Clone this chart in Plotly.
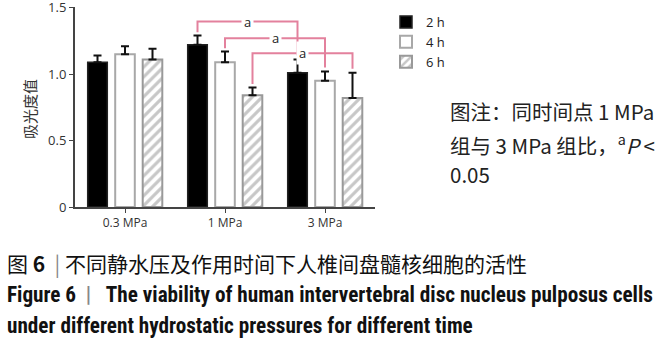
import plotly.graph_objects as go

# ---------------- data ----------------
categories = ["0.3 MPa", "1 MPa", "3 MPa"]
series_names = ["2 h", "4 h", "6 h"]
means_2h = [1.09, 1.22, 1.01]
means_4h = [1.15, 1.09, 0.95]
means_6h = [1.11, 0.84, 0.82]
err_2h = [0.05, 0.07, 0.10]
err_4h = [0.06, 0.08, 0.07]
err_6h = [0.08, 0.06, 0.19]
y_tick_vals = [0, 0.5, 1.0, 1.5]
y_tick_text = ["0", "0.5", "1.0", "1.5"]
# significance brackets: (series index, group from, group to, bracket level)
sig_pairs = [(0, 1, 2, 1.395), (1, 1, 2, 1.27), (2, 1, 2, 1.157)]
sig_label = "a"

means = [means_2h, means_4h, means_6h]
errs = [err_2h, err_4h, err_6h]

# ---------------- layout constants ----------------
W, H = 669, 343
ML, MR, MT, MB = 75, 294, 7, 136
PW = W - ML - MR
PH = H - MT - MB
BARGAP = 0.175
BARGROUPGAP = 0.287
slot = (1 - BARGAP) / 3
x_idx = list(range(len(categories)))

def px_to_paper_x(px):
    return (px - ML) / PW

def py_to_paper_y(py):
    return (H - MB - py) / PH

PINK = "#e3819d"
styles = [
    dict(color="#000000", line=dict(color="#222222", width=1.5)),
    dict(color="#ffffff", line=dict(color="#a8a8a8", width=2)),
    dict(color="#ffffff", line=dict(color="#999999", width=2),
         pattern=dict(shape="/", fgcolor="#8f8f8f", bgcolor="#ffffff", size=7, solidity=0.45)),
]

fig = go.Figure()
for i in range(3):
    fig.add_trace(go.Bar(
        x=x_idx, y=means[i], name=series_names[i],
        marker=styles[i],
        error_y=dict(type="data", array=errs[i], arrayminus=[0] * len(categories),
                     symmetric=False, color="#111111", thickness=2, width=4),
    ))

shapes = []
annotations = []
for (s, g0, g1, level) in sig_pairs:
    xa = g0 + (s - 1) * slot
    xb = g1 + (s - 1) * slot
    ya = means[s][g0] + errs[s][g0] + 0.025
    yb = means[s][g1] + errs[s][g1] + 0.03
    shapes.append(dict(type="path", xref="x", yref="y",
                       path=f"M{xa},{ya} L{xa},{level} L{xb},{level} L{xb},{yb}",
                       line=dict(color=PINK, width=2)))
    annotations.append(dict(x=(xa + xb) / 2, y=level, xref="x", yref="y",
                            text=sig_label, showarrow=False, bgcolor="#ffffff",
                            font=dict(family="Open Sans", size=13, color="#222222"),
                            borderpad=2))

# y-axis title
annotations.append(dict(x=px_to_paper_x(29), y=py_to_paper_y(109), xref="paper", yref="paper",
                        xanchor="center", yanchor="middle",
                        text="吸光度值", textangle=-90, showarrow=False,
                        font=dict(family="Noto Sans CJK SC", size=15, color="#333333")))

# note text
note_lines = ["图注：同时间点 1 MPa", "组与 3 MPa 组比，<sup>a</sup><i>P</i> &lt;", "0.05"]
note_y = [111, 144, 174]
for t, yy in zip(note_lines, note_y):
    annotations.append(dict(x=px_to_paper_x(448), y=py_to_paper_y(yy), xref="paper", yref="paper",
                            xanchor="left", yanchor="middle", text=t, showarrow=False,
                            font=dict(family="Noto Sans CJK SC, Open Sans", size=20.5, color="#222222")))

# captions
annotations.append(dict(x=px_to_paper_x(5), y=py_to_paper_y(263), xref="paper", yref="paper",
                        xanchor="left", yanchor="middle", showarrow=False,
                        text="图 <b>6</b>\u00a0 <span style='color:#888'>|</span>\u00a0不同静水压及作用时间下人椎间盘髓核细胞的活性",
                        font=dict(family="Noto Sans CJK SC", size=21, color="#111111")))
annotations.append(dict(x=px_to_paper_x(5), y=py_to_paper_y(294), xref="paper", yref="paper",
                        xanchor="left", yanchor="middle", showarrow=False,
                        text="<b>Figure 6\u00a0\u00a0<span style='color:#888'>|</span>\u00a0\u00a0\u00a0The viability of human intervertebral disc nucleus pulposus cells</b>",
                        font=dict(family="Liberation Sans Narrow, Roboto Condensed, Liberation Sans", size=21.2, color="#111111")))
annotations.append(dict(x=px_to_paper_x(5), y=py_to_paper_y(325), xref="paper", yref="paper",
                        xanchor="left", yanchor="middle", showarrow=False,
                        text="<b>under different hydrostatic pressures for different time</b>",
                        font=dict(family="Liberation Sans Narrow, Roboto Condensed, Liberation Sans", size=21.2, color="#111111")))

fig.update_layout(
    width=W, height=H,
    margin=dict(l=ML, r=MR, t=MT, b=MB, pad=0, autoexpand=False),
    paper_bgcolor="#ffffff", plot_bgcolor="#ffffff",
    barmode="group", bargap=BARGAP, bargroupgap=BARGROUPGAP,
    showlegend=True,
    legend=dict(x=px_to_paper_x(386), y=py_to_paper_y(7), xanchor="left", yanchor="top",
                font=dict(family="Open Sans", size=13, color="#222222"),
                tracegroupgap=0, bgcolor="rgba(0,0,0,0)"),
    shapes=shapes,
    annotations=annotations,
    xaxis=dict(range=[-0.5, 2.5], tickvals=x_idx, ticktext=categories,
               showline=True, linecolor="#444444", linewidth=2, ticks="outside",
               ticklen=4, tickcolor="#444444", showgrid=False, zeroline=False,
               tickfont=dict(family="Open Sans", size=12, color="#333333")),
    yaxis=dict(range=[0, 1.505], tickvals=y_tick_vals, ticktext=y_tick_text,
               showline=True, linecolor="#444444", linewidth=2, ticks="outside",
               ticklen=4, tickcolor="#444444", showgrid=False, zeroline=False,
               ticklabeloverflow="allow",
               tickfont=dict(family="Open Sans", size=13, color="#333333")),
)

fig.write_html("out.html", config={"displayModeBar": False},
               post_script="document.body.style.margin='0';document.body.style.padding='0';")
